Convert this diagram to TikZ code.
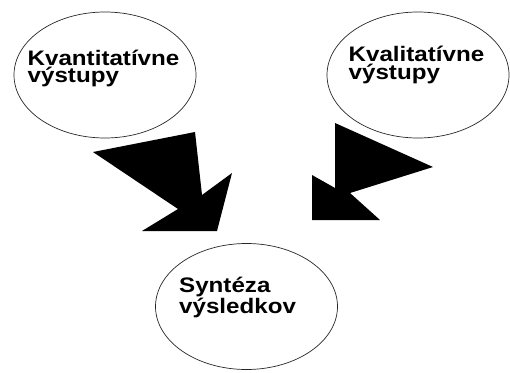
\documentclass[tikz,border=0pt]{standalone}
\usepackage{fontspec}
\setmainfont{Liberation Sans}[FakeStretch=1.15]
\usepackage{tikz}
\usetikzlibrary{shapes.geometric, positioning}
\tikzstyle{bubble}     = [ellipse, draw=black!85, line width=0.7pt, minimum width=182pt, minimum height=126pt, inner sep=0pt]
\tikzstyle{caption}    = [anchor=base west, inner sep=0pt, align=left, font=\fontsize{21}{17.5}\selectfont\bfseries]
\tikzstyle{blockarrow} = [fill=black, draw=none]

\begin{document}
\begin{tikzpicture}[x=1pt, y=-1pt]
    \useasboundingbox (0,0) rectangle (510,372);
    \node[bubble] (kvant) at (105,75)      {};
    \node[bubble] (kval)  at (418,75)      {};
    \node[bubble] (synt)  at (246.5,306.5) {};

    \node[caption] (kvanttxt) at ([xshift=-77.5pt, yshift=-7.7pt]kvant.center) {Kvantitatívne\\výstupy};
    \node[caption] (kvaltxt)  at ([xshift=-69.5pt, yshift=-4.3pt]kval.center)  {Kvalitatívne\\výstupy};
    \node[caption] (synttxt)  at ([xshift=-67.5pt, yshift=-6.8pt]synt.center)  {Syntéza\\výsledkov};

    \fill[blockarrow] (93,152) -- (195,132) -- (202,195) -- (232,173) -- (217,231) -- (142,231) -- (178,209) -- cycle;
    \fill[blockarrow] (335,123) -- (433,167) -- (350,193) -- (380,220) -- (312,220) -- (312,175) -- (335,188) -- cycle;
\end{tikzpicture}
\end{document}
